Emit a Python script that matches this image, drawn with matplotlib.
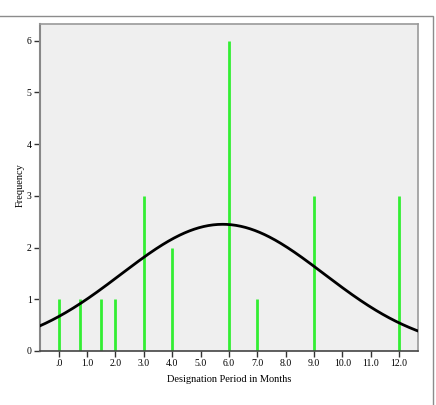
import numpy as np
import matplotlib
matplotlib.use("Agg")
import matplotlib.pyplot as plt
from matplotlib.patches import Rectangle

months = [0.0, 0.75, 1.5, 2.0, 3.0, 4.0, 6.0, 7.0, 9.0, 12.0]
freq = [1, 1, 1, 1, 3, 2, 6, 1, 3, 3]
xtick_vals = [0, 1, 2, 3, 4, 5, 6, 7, 8, 9, 10, 11, 12]
xtick_labels = [".0", "1.0", "2.0", "3.0", "4.0", "5.0", "6.0", "7.0", "8.0", "9.0", "10.0", "11.0", "12.0"]
ytick_vals = [0, 1, 2, 3, 4, 5, 6]

plt.rcParams['font.family'] = ['Liberation Serif', 'DejaVu Serif']

fig = plt.figure(figsize=(4.36, 4.05), dpi=100)
fig.patch.set_facecolor('white')
# outer frame
fig.patches.append(Rectangle((-0.01, -0.05), 433/436 + 0.01, (405-16)/405 + 0.05,
                             transform=fig.transFigure, fill=False,
                             edgecolor='#8c8c8c', linewidth=1.0))

ax = fig.add_axes([40/436, 1-351/405, 378/436, 327/405])
ax.set_facecolor('#efefef')

ax.vlines(months, 0, freq, colors='#33ee33', linewidth=2.0, zorder=2)

# normal curve fitted to the data
vals = np.repeat(months, freq)
mu = vals.mean()
sd = vals.std(ddof=1)
n = len(vals)
xs = np.linspace(-0.7, 12.7, 400)
ys = n * 1.0 / (sd * np.sqrt(2 * np.pi)) * np.exp(-(xs - mu) ** 2 / (2 * sd ** 2))
ax.plot(xs, ys, color='black', linewidth=2.0, zorder=3)

ax.set_xlim(-0.66, 12.67)
ax.set_ylim(0, 6.32)
ax.set_xticks(xtick_vals)
ax.set_xticklabels(xtick_labels, fontsize=7)
ax.set_yticks(ytick_vals)
ax.set_yticklabels([str(v) for v in ytick_vals], fontsize=7)
ax.tick_params(axis='both', direction='out', length=4, width=1, color='#333333', pad=2)

for s in ['top', 'right']:
    ax.spines[s].set_color('#9a9a9a')
    ax.spines[s].set_linewidth(1.2)
ax.spines['left'].set_color('#888888')
ax.spines['left'].set_linewidth(1.5)
ax.spines['bottom'].set_color('#444444')
ax.spines['bottom'].set_linewidth(1.2)

fig.text(229/436, 1-380/405, "Designation Period in Months", ha='center', va='center', fontsize=7.5)
fig.text(20/436, 1-185/405, "Frequency", ha='center', va='center', rotation=90, fontsize=7.5)

fig.savefig("out.png", dpi=100)
